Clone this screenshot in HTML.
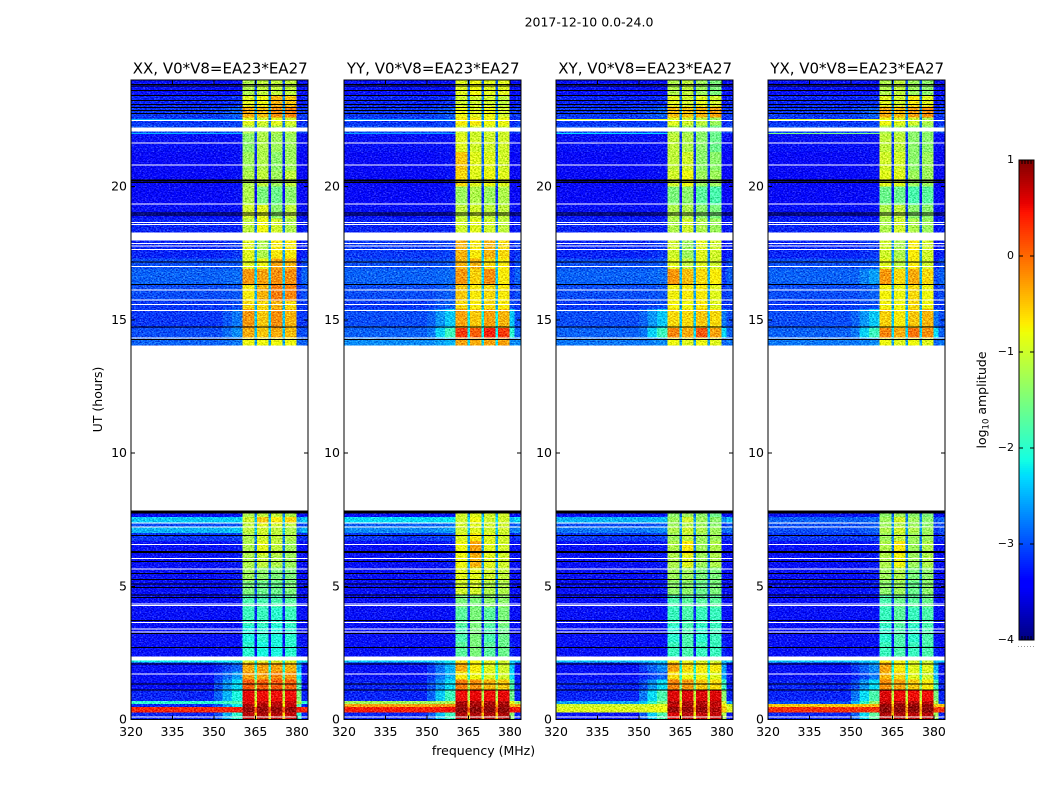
<!DOCTYPE html>
<html lang="en">
<head>
<meta charset="utf-8">
<title>2017-12-10 0.0-24.0</title>
<style>
html,body{margin:0;padding:0;background:#fff;width:1050px;height:800px;overflow:hidden}
svg{display:block}
text{font-family:"DejaVu Sans","Liberation Sans",sans-serif;fill:#000}
</style>
</head>
<body>
<svg id="chart" xmlns="http://www.w3.org/2000/svg" width="1050" height="800" viewBox="0 0 1050 800">
<defs>
<filter id="speckle" x="0" y="0" width="1050" height="800" filterUnits="userSpaceOnUse" color-interpolation-filters="sRGB">
<feTurbulence type="fractalNoise" baseFrequency="0.55 0.8" numOctaves="2" seed="7" result="n"/>
<feColorMatrix in="n" type="matrix" values="1 0 0 0 0 1 0 0 0 0 1 0 0 0 0 0 0 0 0 1" result="g"/>
<feComposite in="SourceGraphic" in2="g" operator="arithmetic" k1="0" k2="1" k3="0.9" k4="-0.45" result="m"/>
<feComposite in="m" in2="SourceAlpha" operator="in"/>
</filter>
</defs>
</svg>
<script>
// ---- shared axis data ----
const panelTitles = ["XX, V0*V8=EA23*EA27", "YY, V0*V8=EA23*EA27", "XY, V0*V8=EA23*EA27", "YX, V0*V8=EA23*EA27"];
const xTicks = [320, 335, 350, 365, 380];
const yTicks = [0, 5, 10, 15, 20];
const colorTicks = [-4, -3, -2, -1, 0, 1];
const freqEdges = [320, 350, 353, 356.5, 360.4, 364.7, 365.5, 369.8, 370.6, 374.8, 375.6, 379.9, 381.7, 384];
const timeEdges = [0,.27,.46,.58,.7,1.1,1.5,1.8,2.14,2.21,2.36,2.9,3.5,4.2,4.7,5.2,5.7,6.2,6.7,7,7.2,7.4,7.6,7.85,14.03,14.3,14.7,15.4,15.7,16.3,16.9,17.3,17.97,18.27,18.8,19.3,20,20.6,21.3,22,22.3,22.6,23,23.4,24];
const blankLineHours = [22.48,21.64,20.81,19.35,18.66,18.57,17.86,17.76,17.64,17.0,16.12,15.75,15.57,15.34,14.32,7.38,7.22,6.56,6.05,5.65,4.34,4.28,3.63,3.40,3.28,1.71,0.09];
const blankBandHours = [[22.07,22.21]];
const darkLineHours = [23.83,23.78,23.6,23.41,23.23,23.08,22.96,22.85,22.74,20.24,20.2,20.16,19.0,18.93,17.16,16.32,14.72,14.26,7.82,7.78,7.74,6.9,6.3,6.26,5.93,5.47,5.25,5.09,4.95,4.68,4.57,3.71,3.22,2.71,2.09,1.34,1.11];
const hotLineHours = [22.52, 22.0];
const hotLineLevels = [[-2.5,-2.5],[-2.6,-2.6],[-.9,-2.3],[-.9,-1.5]];

// ---- log10 amplitude per time row: [low-band, taper-1, taper-2, sub1, sub2, sub3, sub4, sub-gap, upper-edge]; null = no data ----
const xxLevels = [
[-3.2,-3.0,-2.0,.75,.8,.75,.7,0,-2.0],[.35,.35,.4,.9,.9,.9,.9,.7,.4],[-3.2,-3,-2.2,.8,.8,.8,.7,-.2,-1.8],[-2.0,-2.0,-1.8,.6,.7,.7,.7,-.1,-1.2],
[-3.2,-2.9,-2.1,.55,.5,.5,.5,-.5,-1.5],[-3.3,-3.0,-2.3,.1,.05,.1,.05,-.6,-1.8],[-3.3,-3.1,-2.6,-.3,-.3,-.15,-.25,-1.2,-2.2],[-3.3,-3.2,-2.9,-.35,-.3,-.3,-.4,-1.5,-2.5],
[-2.2,-2.2,-2.2,-1,-1,-1,-1,-1.6,-2.3],null,
[-3.3,-3.3,-3.3,-2.0,-2.1,-2.1,-2.0,-2.8,-3.2],[-3.3,-3.3,-3.3,-2.1,-2.0,-2.1,-2.0,-2.8,-3.3],[-3.3,-3.3,-3.3,-1.9,-1.9,-2.0,-1.9,-2.6,-3.3],[-3.3,-3.3,-3.3,-1.8,-1.8,-1.8,-1.7,-2.5,-3.3],
[-3.3,-3.3,-3.25,-1.5,-1.6,-1.6,-1.5,-2.4,-3.3],[-3.3,-3.3,-3.25,-1.3,-1.4,-1.5,-1.5,-2.3,-3.3],[-3.3,-3.3,-3.25,-1.2,-1.1,-1.2,-1.3,-2.2,-3.3],[-3.3,-3.3,-3.25,-1.2,-.9,-1.1,-1.3,-2.2,-3.3],
[-3.1,-3.1,-3.05,-1.2,-1,-1.1,-1.2,-2.1,-3.2],[-2.5,-2.5,-2.4,-1.1,-1.0,-1.1,-1.2,-1.8,-2.7],[-3.0,-3.0,-2.95,-1.1,-.9,-1,-1.1,-2,-3.1],[-2.4,-2.4,-2.35,-1,-.5,-.7,-.6,-1.8,-2.6],[-3.3,-3.3,-3.25,-1.2,-1.1,-1.1,-1.2,-2.2,-3.3],null,
[-2.9,-2.9,-2.8,-.8,-.8,-.8,-.8,-2,-2.9],[-3.0,-3.0,-2.7,-.35,-.5,-.35,-.45,-1.8,-3],[-3.1,-3.1,-2.8,-.25,-.5,-.2,-.4,-1.8,-3.1],[-3.1,-3.1,-3.0,-.6,-.6,-.4,-.6,-1.9,-3.1],
[-3.0,-3,-2.95,-.7,-.4,-.1,-.15,-1.9,-3.1],[-2.9,-2.9,-2.85,-.25,-.3,-.2,-.2,-1.8,-3.1],[-3.0,-3,-2.95,-.9,-.8,-.3,-.4,-1.8,-3.2],[-3.2,-3.2,-3.1,-.9,-1.2,-.7,-.7,-2,-3.3],null,
[-3.2,-3.2,-3.2,-1.1,-.8,-1,-1.2,-2.2,-3.3],[-3.3,-3.3,-3.3,-1,-.9,-1.4,-1.1,-2.5,-3.3],[-3.35,-3.35,-3.3,-1.2,-1.5,-1.6,-1.4,-2.8,-3.4],[-3.35,-3.35,-3.3,-1.2,-1.1,-1.3,-1.1,-2.6,-3.4],
[-3.35,-3.35,-3.3,-1.3,-1.2,-1.4,-1.3,-2.6,-3.4],[-3.3,-3.3,-3.3,-1.4,-1.2,-1.3,-1.3,-2.5,-3.3],[-3.0,-3.0,-3.0,-1.2,-1.2,-1.2,-1.2,-2.2,-3.1],[-3.1,-3.1,-3.05,-.9,-1,-.9,-1,-2.2,-3.2],
[-3.1,-3.05,-2.9,-.35,-.45,-.2,-.15,-1.9,-3.1],[-3.2,-3.2,-3.15,-.9,-.8,-.4,-.5,-2.1,-3.3],[-3.3,-3.3,-3.3,-1.2,-1.1,-1.1,-1.1,-2.4,-3.3]
];
const yyLevels = [
[-3.2,-2.95,-1.9,.8,.8,.8,.8,.1,-1.4],[.4,.4,.5,.95,.95,.95,.95,.7,.5],[-.3,-.3,-.2,.85,.85,.85,.85,.2,-.4],[-1.3,-1.3,-1.2,.8,.8,.8,.8,.1,-.8],
[-3.2,-2.9,-1.9,.5,.55,.5,.55,-.6,-1.6],[-3.2,-3.0,-2.3,-.1,-.2,-.4,-.5,-.6,-1.8],[-3.3,-3.1,-2.5,-.7,-.8,-.9,-1,-1.4,-2.3],[-3.3,-3.1,-2.5,-.35,-.7,-.9,-1,-1.5,-2.4],
[-2.4,-2.4,-2.2,-.7,-.8,-.9,-1,-1.6,-2.4],null,
[-3.3,-3.3,-3.3,-1.7,-1.5,-1.7,-1.6,-2.6,-3.2],[-3.3,-3.3,-3.3,-1.8,-1.5,-1.8,-1.6,-2.6,-3.3],[-3.3,-3.3,-3.3,-1.7,-1.5,-1.7,-1.5,-2.5,-3.3],[-3.3,-3.3,-3.3,-1.5,-1.5,-1.4,-1.4,-2.4,-3.3],
[-3.3,-3.3,-3.25,-1,-1,-1.2,-1.2,-2.2,-3.3],[-3.3,-3.3,-3.25,-.9,-.9,-1,-1.1,-2.1,-3.3],[-3.3,-3.3,-3.25,-.8,-.4,-.9,-1,-2,-3.3],[-3.3,-3.3,-3.25,-.8,-.3,-.9,-1,-2,-3.3],
[-3.1,-3.1,-3.05,-.9,-.7,-.9,-1,-2,-3.2],[-2.7,-2.7,-2.6,-1,-.9,-1,-1,-1.8,-2.8],[-2.9,-2.9,-2.85,-1,-.9,-1,-1,-1.9,-3.0],[-2.3,-2.3,-2.25,-1,-.8,-1,-1,-1.7,-2.5],[-3.3,-3.3,-3.25,-1,-.9,-1,-1,-2,-3.3],null,
[-2.7,-2.7,-2.5,-.3,-.35,-.3,-.3,-1.7,-2.7],[-2.9,-2.8,-1.9,.25,.05,.4,.25,-1.6,-2.0],[-3.0,-2.9,-2.4,-.3,-.5,-.3,-.4,-1.6,-2.4],[-3.1,-3.05,-2.9,-.6,-.7,-.6,-.7,-1.9,-3.0],
[-3.0,-3,-2.9,-.5,-.7,-.6,-.7,-1.9,-3.1],[-2.9,-2.9,-2.85,-.25,-.55,-.2,-.7,-1.8,-3.1],[-3.0,-3,-2.95,-.4,-.4,-.6,-.7,-1.8,-3.2],[-3.1,-3.1,-3.05,-.4,-.7,-.4,-.6,-1.9,-3.2],null,
[-3.2,-3.2,-3.2,-1,-.9,-1,-1.1,-2.2,-3.3],[-3.3,-3.3,-3.3,-1.1,-1,-1.1,-1.1,-2.4,-3.3],[-3.35,-3.35,-3.3,-1.3,-1.2,-1.3,-1.2,-2.6,-3.4],[-3.35,-3.35,-3.3,-.6,-.9,-.8,-.9,-2.3,-3.4],
[-3.35,-3.35,-3.3,-.5,-.9,-.9,-1,-2.3,-3.4],[-3.3,-3.3,-3.3,-.9,-1,-1,-1,-2.3,-3.3],[-3.0,-3.0,-3.0,-1,-1,-1,-1,-2.1,-3.1],[-3.1,-3.1,-3.05,-.7,-.7,-.8,-.8,-2.1,-3.2],
[-3.1,-3.05,-2.95,-.8,-.9,-.8,-1,-2.1,-3.1],[-3.2,-3.2,-3.15,-1,-1,-1,-1.1,-2.2,-3.3],[-3.3,-3.3,-3.3,-.9,-.8,-.9,-.9,-2.3,-3.3]
];
const xyLevels = [
[-3.3,-2.95,-1.8,.6,.75,.7,.7,-.2,-1.2],[-.9,-.9,-.8,.9,.9,.9,.8,.3,-.5],[-1.0,-1,-.9,.7,.8,.8,.7,0,-.7],[-2.6,-2.4,-1.5,.8,.8,.8,.75,0,-1],
[-3.2,-2.8,-1.8,.6,.6,.6,.6,-.5,-1.4],[-3.2,-3.0,-2.3,-.15,-.25,-.5,-.6,-1,-1.9],[-3.3,-3.2,-2.9,-.6,-.8,-.8,-.9,-1.4,-2.6],[-3.3,-3.1,-2.7,-.3,-.6,-.7,-.7,-1.5,-2.6],
[-2.4,-2.4,-2.3,-.8,-.9,-1,-1.1,-1.7,-2.5],null,
[-3.3,-3.3,-3.3,-1.9,-1.8,-1.9,-1.9,-2.7,-3.2],[-3.3,-3.3,-3.3,-2.0,-1.8,-2,-1.9,-2.7,-3.3],[-3.3,-3.3,-3.3,-1.9,-1.8,-1.9,-1.9,-2.6,-3.3],[-3.3,-3.3,-3.3,-1.8,-1.7,-1.7,-1.7,-2.5,-3.3],
[-3.3,-3.3,-3.25,-1.4,-1.4,-1.6,-1.5,-2.3,-3.3],[-3.3,-3.3,-3.25,-1.3,-1.3,-1.5,-1.5,-2.2,-3.3],[-3.3,-3.3,-3.25,-1.2,-.9,-1.3,-1.2,-2.2,-3.3],[-3.3,-3.3,-3.25,-1.2,-.7,-1.3,-1.2,-2.2,-3.3],
[-3.1,-3.1,-3.05,-1.3,-1.1,-1.3,-1.3,-2.2,-3.2],[-2.8,-2.8,-2.7,-1.2,-1.0,-1.2,-1.3,-2,-2.9],[-3.0,-3.0,-2.95,-1.3,-1.2,-1.3,-1.4,-2.1,-3.1],[-2.5,-2.5,-2.45,-1.3,-1,-1.3,-1.4,-2,-2.7],[-3.3,-3.3,-3.25,-1.4,-1.3,-1.4,-1.6,-2.3,-3.3],null,
[-2.8,-2.8,-2.7,-.8,-.9,-.8,-.9,-2,-2.9],[-2.9,-2.8,-1.9,-.15,-.35,.1,-.3,-1.7,-2.3],[-3.0,-2.9,-2.4,-.6,-.6,-.5,-.6,-1.8,-2.8],[-3.1,-3.05,-3,-.75,-.8,-.7,-.9,-2,-3.1],
[-3.0,-3,-2.95,-.75,-.7,-.7,-.9,-2,-3.1],[-2.9,-2.9,-2.85,-.25,-.45,-.6,-.7,-1.9,-3.1],[-3.0,-3,-2.95,-.9,-1.1,-.9,-1,-2,-3.2],[-3.2,-3.2,-3.1,-1,-1.3,-.9,-1,-2.1,-3.3],null,
[-3.2,-3.2,-3.2,-1.2,-1,-1.2,-1.3,-2.3,-3.3],[-3.3,-3.3,-3.3,-1.2,-1.2,-1.4,-1.5,-2.5,-3.3],[-3.35,-3.35,-3.3,-1.5,-1.4,-1.7,-1.8,-2.8,-3.4],[-3.35,-3.35,-3.3,-1,-.8,-1.3,-1.3,-2.5,-3.4],
[-3.35,-3.35,-3.3,-1.1,-1,-1.4,-1.4,-2.5,-3.4],[-3.3,-3.3,-3.3,-1.1,-1.2,-1.4,-1.6,-2.5,-3.3],[-3.0,-3.0,-3.0,-1.2,-1.3,-1.4,-1.6,-2.3,-3.1],[-3.1,-3.1,-3.05,-.9,-1,-1.1,-1.3,-2.2,-3.2],
[-3.1,-3.05,-2.9,-.45,-.5,-.4,-.3,-2,-3.1],[-3.2,-3.2,-3.15,-.9,-1,-.9,-1,-2.2,-3.3],[-3.3,-3.3,-3.3,-1.2,-1.1,-1.3,-1.5,-2.4,-3.3]
];
const yxLevels = [
[-3.2,-2.9,-1.7,.8,.8,.75,.75,0,-1.3],[.3,.3,.3,.95,.95,.95,.95,.4,.2],[-.5,-.5,-.4,.9,.9,.9,.9,.2,-.5],[-3,-2.5,-1.4,.7,.75,.75,.7,-.2,-1.2],
[-3.2,-2.8,-1.8,.6,.5,.5,.5,-.5,-1.5],[-3.2,-3.0,-2.3,-.2,-.3,-.5,-.7,-.9,-1.9],[-3.3,-3.2,-2.8,-.4,-.6,-.9,-1,-1.4,-2.5],[-3.3,-3.1,-2.7,-.3,-.7,-.9,-.9,-1.5,-2.5],
[-2.4,-2.4,-2.3,-.7,-.8,-1,-1.1,-1.7,-2.5],null,
[-3.3,-3.3,-3.3,-1.9,-1.8,-1.9,-1.8,-2.7,-3.2],[-3.3,-3.3,-3.3,-2.0,-1.8,-2,-1.8,-2.7,-3.3],[-3.3,-3.3,-3.3,-1.9,-1.7,-1.9,-1.8,-2.6,-3.3],[-3.3,-3.3,-3.3,-1.8,-1.6,-1.7,-1.6,-2.5,-3.3],
[-3.3,-3.3,-3.25,-1.4,-1.3,-1.6,-1.4,-2.3,-3.3],[-3.3,-3.3,-3.25,-1.3,-1.2,-1.5,-1.4,-2.2,-3.3],[-3.3,-3.3,-3.25,-1.2,-.8,-1.3,-1.2,-2.2,-3.3],[-3.3,-3.3,-3.25,-1.2,-.7,-1.3,-1.2,-2.2,-3.3],
[-3.1,-3.1,-3.05,-1.3,-1.1,-1.3,-1.3,-2.2,-3.2],[-3.0,-3.0,-2.9,-1.2,-1.0,-1.2,-1.3,-2,-3.1],[-3.0,-3.0,-2.95,-1.3,-1.2,-1.3,-1.4,-2.1,-3.1],[-2.9,-2.9,-2.85,-1.3,-1,-1.3,-1.4,-2.1,-3.0],[-3.3,-3.3,-3.25,-1.4,-1.3,-1.4,-1.5,-2.3,-3.3],null,
[-2.8,-2.8,-2.7,-.8,-.9,-.8,-.9,-2,-2.9],[-2.9,-2.8,-1.9,-.15,-.35,-.05,-.2,-1.7,-2.3],[-3.0,-2.9,-2.4,-.55,-.7,-.5,-.4,-1.8,-2.8],[-3.1,-3.05,-3,-.75,-.8,-.6,-.8,-2,-3.1],
[-3.0,-3,-2.9,-.75,-.8,-.6,-.8,-2,-3.1],[-2.9,-2.9,-2.6,-.25,-.6,-.35,-.6,-1.9,-3.0],[-3.0,-3,-2.95,-.9,-1.1,-.7,-1,-2,-3.2],[-3.2,-3.2,-3.1,-1,-1.2,-.7,-1,-2.1,-3.3],null,
[-3.2,-3.2,-3.2,-1.2,-1,-1.2,-1.3,-2.3,-3.3],[-3.3,-3.3,-3.3,-1.2,-1.1,-1.4,-1.4,-2.5,-3.3],[-3.35,-3.35,-3.3,-1.6,-1.6,-1.8,-1.7,-2.8,-3.4],[-3.35,-3.35,-3.3,-.9,-.9,-1.3,-1.3,-2.5,-3.4],
[-3.35,-3.35,-3.3,-1.0,-1,-1.4,-1.3,-2.5,-3.4],[-3.3,-3.3,-3.3,-1.1,-1.1,-1.4,-1.4,-2.5,-3.3],[-3.0,-3.0,-3.0,-1.2,-1.2,-1.4,-1.4,-2.3,-3.1],[-3.1,-3.1,-3.05,-.8,-.9,-1.0,-1.2,-2.2,-3.2],
[-3.1,-3.05,-2.9,-.35,-.45,-.3,-.2,-2,-3.1],[-3.2,-3.2,-3.15,-.9,-1,-.7,-.9,-2.2,-3.3],[-3.3,-3.3,-3.3,-1.2,-1.1,-1.3,-1.4,-2.4,-3.3]
];
const panelLevels = [xxLevels, yyLevels, xyLevels, yxLevels];

// ---- layout + axis functions ----
const svg = document.getElementById('chart');
const NS = 'http://www.w3.org/2000/svg';
const panelLeft = [131, 344, 556, 768];
const panelWidth = 177, plotTop = 80, plotBottom = 719.5;
const freqMin = 320, freqMax = 384, hourMin = 0, hourMax = 24;
const gapDepth = -0.6;
function xScale(left, f) { return left + (f - freqMin) / (freqMax - freqMin) * panelWidth; }
function yScale(h) { return plotBottom - (h - hourMin) / (hourMax - hourMin) * (plotBottom - plotTop); }
function lerpStops(stops, t) {
  for (let i = 1; i < stops.length; i++) {
    if (t <= stops[i][0]) {
      const a = stops[i - 1], b = stops[i];
      return a[1] + (b[1] - a[1]) * (t - a[0]) / (b[0] - a[0]);
    }
  }
  return stops[stops.length - 1][1];
}
function jet(t) {
  t = Math.max(0, Math.min(1, t));
  const r = lerpStops([[0, 0], [.35, 0], [.66, 1], [.89, 1], [1, .5]], t);
  const g = lerpStops([[0, 0], [.125, 0], [.375, 1], [.64, 1], [.91, 0], [1, 0]], t);
  const b = lerpStops([[0, .5], [.11, 1], [.34, 1], [.65, 0], [1, 0]], t);
  return 'rgb(' + Math.round(r * 255) + ',' + Math.round(g * 255) + ',' + Math.round(b * 255) + ')';
}
const colorMin = -4, colorMax = 1;
function colorOf(v) { return jet((v - colorMin) / (colorMax - colorMin)); }
function make(tag, attrs, parent) {
  const n = document.createElementNS(NS, tag);
  for (const k in attrs) n.setAttribute(k, attrs[k]);
  (parent || svg).appendChild(n);
  return n;
}
function label(str, attrs, parent) {
  const n = make('text', attrs, parent);
  n.textContent = str;
  return n;
}
function minusText(v) { return v < 0 ? '\u2212' + Math.abs(v) : String(v); }
// maps one row's 9 levels onto the 13 frequency columns
function columnLevels(r) {
  const gap = r[7] + gapDepth;
  return [r[0], r[1], (r[1] + r[2]) / 2, r[2], r[3], gap, r[4], gap, r[5], gap, r[6], r[8], r[0]];
}

const figureTitle = label('2017-12-10 0.0-24.0', {x: 589, y: 26.5, 'text-anchor': 'middle', 'font-size': 12.5});



panelLeft.forEach(function (left, p) {
  const g = make('g', {});
  
  
  const cellsGroup = make('g', {filter: 'url(#speckle)'}, g);
  
  
  const levels = panelLevels[p];
  levels.forEach(function (row, i) {
    if (!row) return;
    const cols = columnLevels(row);
    const y0 = yScale(timeEdges[i + 1]), y1 = yScale(timeEdges[i]);
    cols.forEach(function (v, c) {
      const x0 = xScale(left, freqEdges[c]), x1 = xScale(left, freqEdges[c + 1]);
      const cell = make('rect', {x: x0, y: y0, width: x1 - x0, height: y1 - y0, fill: colorOf(v), 'shape-rendering': 'crispEdges'}, cellsGroup);
      
      
    });
  });
  hotLineHours.forEach(function (h, i) {
    const hot = make('rect', {x: left, y: yScale(h + .02), width: xScale(left, 360.4) - left, height: 1, fill: colorOf(hotLineLevels[p][i]), 'shape-rendering': 'crispEdges'}, g);
    
    
  });
  blankBandHours.forEach(function (b) {
    const band = make('rect', {x: left, y: yScale(b[1]), width: panelWidth, height: yScale(b[0]) - yScale(b[1]), fill: '#fff', 'shape-rendering': 'crispEdges'}, g);
    
    
  });
  blankLineHours.forEach(function (h) {
    const line = make('rect', {x: left, y: yScale(h + .02), width: panelWidth, height: 1, fill: '#fff', 'shape-rendering': 'crispEdges'}, g);
    
    
  });
  darkLineHours.forEach(function (h) {
    const line = make('rect', {x: left, y: yScale(h + .02), width: panelWidth, height: 1, fill: '#000', 'shape-rendering': 'crispEdges'}, g);
    
    
  });
  const frame = make('rect', {x: left, y: plotTop, width: panelWidth, height: plotBottom - plotTop, fill: 'none', stroke: '#000', 'stroke-width': 1, 'shape-rendering': 'crispEdges'}, g);
  
  
  xTicks.forEach(function (f) {
    const x = xScale(left, f);
    const tickB = make('line', {x1: x, x2: x, y1: plotBottom, y2: plotBottom - 4, stroke: '#000', 'shape-rendering': 'crispEdges'}, g);
    
    
    const tickT = make('line', {x1: x, x2: x, y1: plotTop, y2: plotTop + 4, stroke: '#000', 'shape-rendering': 'crispEdges'}, g);
    
    
    const tl = label(String(f), {x: x, y: 736, 'text-anchor': 'middle', 'font-size': 12.5}, g);
    
    
  });
  yTicks.forEach(function (h) {
    const y = yScale(h);
    const tickL = make('line', {x1: left, x2: left + 4, y1: y, y2: y, stroke: '#000', 'shape-rendering': 'crispEdges'}, g);
    
    
    const tickR = make('line', {x1: left + panelWidth, x2: left + panelWidth - 4, y1: y, y2: y, stroke: '#000', 'shape-rendering': 'crispEdges'}, g);
    
    
    const tl = label(String(h), {x: left - 4, y: y + 4, 'text-anchor': 'end', 'font-size': 12.5}, g);
    
    
  });
  const title = label(panelTitles[p], {x: left + panelWidth / 2 + .7, y: 73.5, 'text-anchor': 'middle', 'font-size': 15}, g);
  
  
});

const xTitle = label('frequency (MHz)', {x: 483.5, y: 755, 'text-anchor': 'middle', 'font-size': 12.5});


const yTitle = label('UT (hours)', {x: 0, y: 0, 'text-anchor': 'middle', 'font-size': 12.5, transform: 'translate(102 399.5) rotate(-90)'});



// ---- colorbar ----
const cbarX = 1019, cbarW = 15, cbarTop = 160, cbarBottom = 640;
const cbarEdgeTickOffsets = [3, 6, 9, 12];
function cbarY(v) { return cbarBottom - (v - colorMin) / (colorMax - colorMin) * (cbarBottom - cbarTop); }
const cbar = make('g', {});


for (let py = cbarTop; py < cbarBottom; py += 2) {
  const v = colorMin + (cbarBottom - py - 1) / (cbarBottom - cbarTop) * (colorMax - colorMin);
  const swatch = make('rect', {x: cbarX, y: py, width: cbarW, height: 2, fill: colorOf(v), 'shape-rendering': 'crispEdges'}, cbar);
  
  
}
const cbarFrame = make('rect', {x: cbarX, y: cbarTop, width: cbarW, height: cbarBottom - cbarTop, fill: 'none', stroke: '#000', 'shape-rendering': 'crispEdges'}, cbar);


cbarEdgeTickOffsets.forEach(function (dx) {
  const top = make('line', {x1: cbarX + dx, x2: cbarX + dx, y1: cbarTop, y2: cbarTop + 4, stroke: '#000', 'shape-rendering': 'crispEdges'}, cbar);
  
  
  const bottom = make('line', {x1: cbarX + dx, x2: cbarX + dx, y1: cbarBottom, y2: cbarBottom - 4, stroke: '#000', 'shape-rendering': 'crispEdges'}, cbar);
  
  
});
const cbarDots = make('line', {x1: 1018, x2: 1035, y1: 646.5, y2: 646.5, stroke: '#999', 'stroke-dasharray': '1 2', 'shape-rendering': 'crispEdges'}, cbar);


colorTicks.forEach(function (v) {
  const y = cbarY(v);
  const t1 = make('line', {x1: cbarX, x2: cbarX + 4, y1: y, y2: y, stroke: '#000', 'shape-rendering': 'crispEdges'}, cbar);
  
  
  const t2 = make('line', {x1: cbarX + cbarW, x2: cbarX + cbarW - 4, y1: y, y2: y, stroke: '#000', 'shape-rendering': 'crispEdges'}, cbar);
  
  
  const tl = label(minusText(v), {x: 1014, y: y + 3, 'text-anchor': 'end', 'font-size': 11}, cbar);
  
  
});
const cbarTitle = make('text', {x: 0, y: 0, 'text-anchor': 'middle', 'font-size': 12.5, transform: 'translate(986 400) rotate(-90)'}, cbar);


cbarTitle.textContent = 'log';
const sub10 = make('tspan', {dy: 2.5, 'font-size': 8.5}, cbarTitle);
sub10.textContent = '10';
const restTitle = make('tspan', {dy: -2.5}, cbarTitle);
restTitle.textContent = ' amplitude';
</script>
</body>
</html>
